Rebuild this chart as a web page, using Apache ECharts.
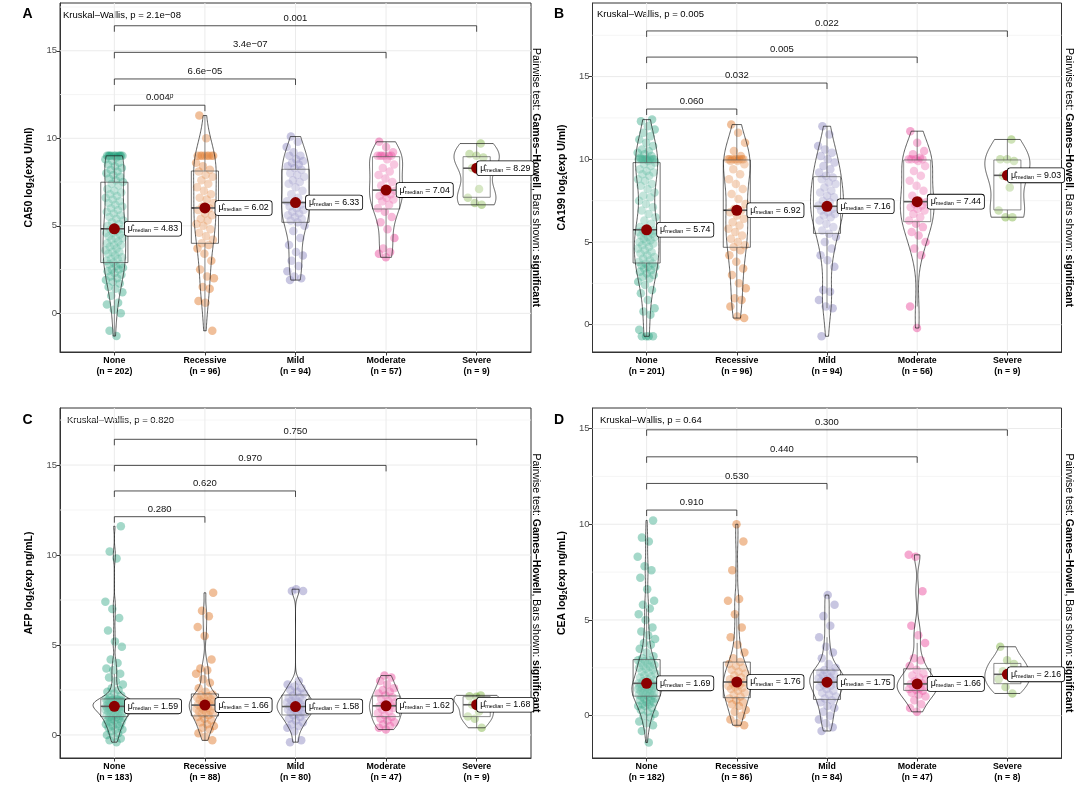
<!DOCTYPE html>
<html><head><meta charset="utf-8">
<script src="https://cdn.jsdelivr.net/npm/echarts@6/dist/echarts.min.js"></script>
<style>html,body{margin:0;padding:0;background:#fff}#c{width:1083px;height:789px}</style>
</head><body><div id="c"></div>
<script>
const categories = ['None','Recessive','Mild','Moderate','Severe'];
const groupColors = ['#1B9E77','#D95F02','#7570B3','#E7298A','#66A61E'];

// ---------- Panel A : CA50 ----------
const A_n = [202,96,94,57,9];
const A_median = [4.83,6.02,6.33,7.04,8.29];
const A_q1 = [2.90,4.00,5.20,5.96,6.63];
const A_q3 = [7.49,8.13,8.23,8.95,8.95];
const A_None = [-1.3,-1.0,0.0,0.2,0.5,0.6,1.0,1.2,1.4,1.5,1.7,1.8,1.9,2.0,2.1,2.2,2.3,2.4,2.5,2.5,2.6,2.7,2.8,2.8,2.9,
 3.0,3.1,3.1,3.2,3.3,3.4,3.5,3.5,3.6,3.7,3.8,3.9,3.9,4.0,4.1,4.2,4.3,4.3,4.4,4.5,4.6,4.6,4.7,4.8,4.8,
 4.9,5.0,5.1,5.2,5.3,5.4,5.5,5.6,5.7,5.8,5.9,6.0,6.1,6.2,6.3,6.4,6.5,6.6,6.7,6.8,6.9,7.0,7.1,7.3,7.4,
 7.5,7.6,7.7,7.8,7.9,8.0,8.1,8.2,8.3,8.4,8.5,8.6,8.7,8.8,8.9,9.0,9.0,9.0,9.0,9.0,9.0,9.0,9.0,9.0,9.0];
const A_Recessive = [-1.0,0.6,0.7,1.4,1.5,2.0,2.1,2.5,3.0,3.4,3.7,3.9,
 4.0,4.2,4.4,4.6,4.8,5.0,5.1,5.3,5.4,5.6,5.7,5.9,6.0,
 6.1,6.3,6.5,6.6,6.8,7.0,7.2,7.4,7.6,7.8,7.9,8.1,
 8.2,8.4,8.6,9.0,9.0,9.0,9.0,9.0,9.0,9.0,9.0,10.0,11.3];
const A_Mild = [1.9,2.0,2.1,2.4,2.7,3.0,3.3,3.5,3.9,4.3,4.7,5.0,
 5.2,5.3,5.4,5.5,5.6,5.7,5.8,5.9,6.0,6.1,6.2,6.3,
 6.4,6.6,6.8,7.0,7.2,7.4,7.5,7.6,7.8,7.9,8.0,8.2,
 8.3,8.4,8.5,8.6,8.7,8.8,9.0,9.0,9.2,9.5,9.8,10.1];
const A_Moderate = [3.2,3.4,3.5,3.7,4.3,4.8,5.2,5.5,5.8,
 6.0,6.2,6.4,6.5,6.6,6.7,6.8,6.9,7.0,
 7.1,7.3,7.5,7.7,7.9,8.1,8.3,8.5,8.8,
 9.0,9.0,9.0,9.0,9.0,9.0,9.2,9.5,9.8];
const A_Severe = [6.2,6.3,6.6,7.1,8.3,8.9,9.0,9.1,9.7];
const A_pairY = [11.89,13.39,14.91,16.43];
const A_pairText = ['0.004{sup|p}','6.6e\u221205','3.4e\u221207','0.001'];

// ---------- Panel B : CA199 ----------
const B_n = [201,96,94,56,9];
const B_median = [5.74,6.92,7.16,7.44,9.03];
const B_q1 = [3.73,4.68,5.52,6.23,6.94];
const B_q3 = [9.80,9.96,8.95,9.96,9.96];
const B_None = [-0.7,-0.7,-0.7,-0.7,-0.3,0.6,0.8,1.0,1.5,1.9,2.1,2.4,2.6,2.8,2.9,3.0,3.1,3.2,3.3,3.4,3.5,3.5,3.6,3.7,3.7,
 3.8,3.9,4.0,4.1,4.2,4.3,4.4,4.5,4.6,4.7,4.8,4.9,5.0,5.0,5.1,5.2,5.3,5.3,5.4,5.5,5.5,5.6,5.6,5.7,5.7,
 5.8,5.9,6.1,6.3,6.5,6.7,6.9,7.1,7.3,7.5,7.7,7.8,8.0,8.2,8.4,8.5,8.7,8.8,9.0,9.1,9.2,9.3,9.4,9.6,9.7,
 9.8,9.9,10.0,10.0,10.0,10.0,10.0,10.0,10.0,10.0,10.1,10.2,10.3,10.4,10.5,10.6,10.8,11.0,11.2,11.4,11.6,11.8,12.0,12.3,12.4];
const B_Recessive = [0.4,0.5,1.1,1.5,1.6,2.2,2.5,3.0,3.4,3.8,4.2,4.5,
 4.7,4.8,5.0,5.2,5.4,5.6,5.8,6.0,6.2,6.4,6.6,6.8,6.9,
 7.0,7.3,7.6,7.9,8.2,8.5,8.8,9.1,9.4,9.7,9.9,9.9,
 10.0,10.0,10.0,10.0,10.0,10.0,10.0,10.0,10.2,10.5,11.0,11.6,12.1];
const B_Mild = [-0.7,1.0,1.1,1.5,2.0,2.1,3.5,3.9,4.2,4.6,5.0,5.3,
 5.5,5.7,5.9,6.1,6.3,6.5,6.6,6.7,6.8,6.9,7.0,7.1,
 7.2,7.4,7.5,7.7,7.8,8.0,8.1,8.3,8.5,8.6,8.8,8.9,
 9.0,9.2,9.4,9.6,9.8,10.0,10.2,10.4,10.6,10.8,11.5,12.0];
const B_Moderate = [-0.2,1.1,4.2,4.6,5.0,5.4,5.6,5.9,6.1,
 6.3,6.5,6.7,6.9,7.0,7.1,7.2,7.3,7.4,
 7.5,7.8,8.1,8.4,8.7,9.0,9.3,9.6,9.9,
 10.0,10.0,10.0,10.0,10.1,10.3,10.5,11.0,11.7];
const B_Severe = [6.5,6.5,6.9,8.3,9.0,9.9,10.0,10.0,11.2];
const B_pairY = [13.04,14.61,16.18,17.76];
const B_pairText = ['0.060','0.032','0.005','0.022'];

// ---------- Panel C : AFP ----------
const C_n = [183,88,80,47,9];
const C_median = [1.59,1.66,1.58,1.62,1.68];
const C_q1 = [1.02,1.06,1.11,1.02,1.02];
const C_q3 = [2.00,2.28,2.22,2.17,2.13];
const C_None = [-0.4,-0.3,-0.2,-0.1,0.0,0.1,0.2,0.3,0.3,0.4,0.5,0.5,0.6,0.6,0.7,0.7,0.8,0.8,0.9,0.9,0.95,1.0,1.0,
 1.05,1.1,1.1,1.15,1.2,1.2,1.25,1.3,1.3,1.35,1.4,1.4,1.4,1.45,1.45,1.5,1.5,1.5,1.55,1.55,1.55,1.6,1.6,
 1.6,1.65,1.65,1.7,1.7,1.7,1.75,1.75,1.8,1.8,1.8,1.85,1.85,1.85,1.9,1.9,1.9,1.9,1.95,1.95,1.95,2.0,2.0,
 2.1,2.2,2.3,2.4,2.5,2.6,2.8,3.0,3.2,3.4,3.6,3.7,4.0,4.2,4.9,5.2,5.8,6.5,7.0,7.4,9.8,10.2,11.6];
const C_Recessive = [-0.3,-0.1,0.1,0.3,0.4,0.5,0.6,0.7,0.8,0.9,1.0,
 1.1,1.15,1.2,1.25,1.3,1.35,1.4,1.45,1.5,1.55,1.6,1.65,
 1.7,1.75,1.8,1.85,1.9,1.95,2.0,2.05,2.1,2.15,2.2,2.25,
 2.4,2.6,2.9,3.1,3.4,3.6,3.7,4.2,5.5,6.0,6.6,6.9,7.9];
const C_Mild = [-0.4,-0.3,0.2,0.4,0.5,0.6,0.7,0.8,0.9,1.0,
 1.1,1.15,1.2,1.25,1.3,1.35,1.4,1.45,1.5,1.55,1.58,
 1.6,1.7,1.75,1.8,1.85,1.9,1.95,2.0,2.05,2.1,2.2,
 2.3,2.4,2.5,2.6,2.7,2.8,3.0,8.0,8.0,8.1];
const C_Moderate = [0.3,0.4,0.5,0.6,0.7,0.8,0.9,1.0,1.1,1.2,1.3,1.4,1.5,1.55,1.6,
 1.65,1.7,1.8,1.9,2.0,2.1,2.2,2.3,2.4,2.5,2.6,2.8,3.0,3.2,3.3];
const C_Severe = [0.4,0.9,1.02,1.3,1.68,1.9,2.13,2.15,2.2];
const C_pairY = [12.13,13.56,14.98,16.43];
const C_pairText = ['0.280','0.620','0.970','0.750'];

// ---------- Panel D : CEA ----------
const D_n = [182,86,84,47,8];
const D_median = [1.69,1.76,1.75,1.66,2.16];
const D_q1 = [1.02,0.94,0.85,1.32,1.67];
const D_q3 = [2.93,2.80,2.38,2.45,2.73];
const D_None = [-1.4,-0.8,-0.5,-0.4,-0.3,-0.1,0.0,0.1,0.2,0.3,0.4,0.5,0.5,0.6,0.6,0.7,0.7,0.8,0.8,0.9,0.9,1.0,1.0,
 1.05,1.1,1.1,1.15,1.2,1.2,1.25,1.3,1.3,1.35,1.4,1.4,1.45,1.45,1.5,1.5,1.55,1.55,1.6,1.6,1.65,1.65,1.68,
 1.7,1.75,1.8,1.85,1.9,2.0,2.05,2.1,2.2,2.25,2.3,2.4,2.45,2.5,2.55,2.6,2.65,2.7,2.75,2.8,2.85,2.9,2.9,
 3.0,3.1,3.3,3.5,3.7,3.8,4.0,4.2,4.4,4.6,5.0,5.3,5.6,5.8,6.0,6.6,7.2,7.6,7.8,8.3,9.1,9.3,10.2];
const D_Recessive = [-0.5,-0.4,-0.2,0.0,0.2,0.3,0.5,0.6,0.7,0.8,0.9,
 1.0,1.1,1.2,1.3,1.4,1.45,1.5,1.55,1.6,1.7,1.75,
 1.8,1.9,2.0,2.1,2.2,2.3,2.4,2.5,2.6,2.7,2.8,
 3.0,3.3,3.7,4.1,4.6,5.3,6.0,6.1,7.6,9.1,10.0];
const D_Mild = [-0.8,-0.6,-0.4,-0.2,0.0,0.2,0.4,0.5,0.7,0.8,
 0.9,1.0,1.1,1.2,1.3,1.4,1.5,1.55,1.6,1.7,1.75,
 1.8,1.85,1.9,1.95,2.0,2.1,2.15,2.2,2.25,2.3,2.38,
 2.5,2.7,3.0,3.3,3.6,4.1,4.7,5.2,5.8,6.3];
const D_Moderate = [0.2,0.4,0.6,0.8,1.0,1.1,1.2,1.3,1.35,1.4,1.45,1.5,1.55,1.6,1.66,
 1.7,1.8,1.9,2.0,2.1,2.2,2.4,2.6,2.9,3.0,3.8,4.2,4.7,6.5,8.3,8.4];
const D_Severe = [1.16,1.5,1.9,2.0,2.32,2.7,2.9,3.6];
const D_pairY = [10.74,12.13,13.52,14.93];
const D_pairText = ['0.910','0.530','0.440','0.300'];

const yTicks = [0,5,10,15];
const FF = "'Liberation Sans', Arial, Helvetica, sans-serif";

const panels = [
  {letter:'A', groups:[A_None,A_Recessive,A_Mild,A_Moderate,A_Severe], n:A_n, med:A_median, q1:A_q1, q3:A_q3,
   pairY:A_pairY, pairText:A_pairText, yTitle:'CA50 log{s|2}(exp U/ml)', kw:'Kruskal\u2013Wallis, p = 2.1e\u221208',
   grid:{left:60, top:3, width:471, height:349}, yMin:-2.21, yMax:17.73, letterXY:[27.5,14.5], kwXY:[63,15], capXY:[536,177.5]},
  {letter:'B', groups:[B_None,B_Recessive,B_Mild,B_Moderate,B_Severe], n:B_n, med:B_median, q1:B_q1, q3:B_q3,
   pairY:B_pairY, pairText:B_pairText, yTitle:'CA199 log{s|2}(exp U/ml)', kw:'Kruskal\u2013Wallis, p = 0.005',
   grid:{left:592.5, top:3, width:469, height:349}, yMin:-1.65, yMax:19.45, letterXY:[559,14.5], kwXY:[597,14.5], capXY:[1069,177.5]},
  {letter:'C', groups:[C_None,C_Recessive,C_Mild,C_Moderate,C_Severe], n:C_n, med:C_median, q1:C_q1, q3:C_q3,
   pairY:C_pairY, pairText:C_pairText, yTitle:'AFP log{s|2}(exp ng/mL)', kw:'Kruskal\u2013Wallis, p = 0.820',
   grid:{left:60, top:408, width:471, height:350}, yMin:-1.28, yMax:18.17, letterXY:[27.5,420.5], kwXY:[67,420.5], capXY:[536,583]},
  {letter:'D', groups:[D_None,D_Recessive,D_Mild,D_Moderate,D_Severe], n:D_n, med:D_median, q1:D_q1, q3:D_q3,
   pairY:D_pairY, pairText:D_pairText, yTitle:'CEA log{s|2}(exp ng/mL)', kw:'Kruskal\u2013Wallis, p = 0.64',
   grid:{left:592.5, top:408, width:469, height:350}, yMin:-2.21, yMax:16.07, letterXY:[559,420.5], kwXY:[600,420.5], capXY:[1069,583]}
];

// Gaussian KDE (bw.nrd0 on the listed values), trimmed to data range, as ggplot2 geom_violin
function kde(vals) {
  const s = vals.slice().sort((a,b)=>a-b), n = s.length;
  const mean = s.reduce((a,b)=>a+b,0)/n;
  const sd = Math.sqrt(s.reduce((a,b)=>a+(b-mean)*(b-mean),0)/(n-1));
  const q = p => { const h=(n-1)*p, lo=Math.floor(h), hi=Math.min(lo+1,n-1); return s[lo]+(h-lo)*(s[hi]-s[lo]); };
  let lo = Math.min(sd, (q(0.75)-q(0.25))/1.34); if (!(lo>0)) lo = sd || 1;
  const bw = 0.9*lo*Math.pow(n, -0.2);
  const ys=[], ds=[], m=160;
  for (let k=0;k<m;k++){
    const y = s[0]+(s[n-1]-s[0])*k/(m-1); let d=0;
    for (const v of s){ const z=(y-v)/bw; d+=Math.exp(-0.5*z*z); }
    ys.push(y); ds.push(d/(n*bw*Math.sqrt(2*Math.PI)));
  }
  return {ys, ds};
}
function jitterX(i, g) { const f = ((i+1)*0.6180339887 + g*0.29) % 1; return (f-0.5)*0.2; }

const grids=[], xAxes=[], yAxes=[], series=[], graphic=[];

panels.forEach((P, pi) => {
  grids.push(Object.assign({show:true, borderColor:'#333', borderWidth:1, backgroundColor:'transparent'}, P.grid));
  xAxes.push({type:'value', gridIndex:pi, min:0.4, max:5.6,
    axisLine:{show:true, onZero:false, lineStyle:{color:'#333', width:1}},
    axisTick:{show:true, customValues:[1,2,3,4,5], length:3.5, lineStyle:{color:'#333'}},
    axisLabel:{customValues:[1,2,3,4,5], margin:3.5, fontSize:8.8, fontWeight:'bold', color:'#000', lineHeight:10.5, fontFamily:FF,
      formatter: v => categories[Math.round(v)-1] + '\n(n = ' + P.n[Math.round(v)-1] + ')'},
    splitLine:{show:false}});
  yAxes.push({type:'value', gridIndex:pi, min:P.yMin, max:P.yMax,
    axisLine:{show:true, lineStyle:{color:'#333', width:1}},
    axisTick:{show:true, customValues:yTicks, length:3.5, lineStyle:{color:'#333'}},
    axisLabel:{customValues:yTicks, margin:3, fontSize:9.5, color:'#4D4D4D', fontFamily:FF},
    splitLine:{show:false},
    name:P.yTitle, nameLocation:'middle', nameGap:24,
    nameTextStyle:{fontWeight:'bold', fontSize:10.5, color:'#000', fontFamily:FF, lineHeight:13,
      rich:{s:{fontSize:7, fontWeight:'bold', fontFamily:FF, lineHeight:7, verticalAlign:'bottom', color:'#000'}}}});

  // grid lines
  series.push({type:'custom', xAxisIndex:pi, yAxisIndex:pi, z:1, silent:true, data:[[1,0]],
    renderItem:(params, api) => {
      const ch=[];
      for (let y=-2.5; y<=P.yMax; y+=2.5) {
        if (y < P.yMin) continue;
        const a=api.coord([0.4,y]), b=api.coord([5.6,y]);
        const major = Math.abs(y%5)<1e-9;
        ch.push({type:'line', shape:{x1:a[0],y1:a[1],x2:b[0],y2:b[1]}, style:{stroke: major?'#EBEBEB':'#F2F2F2', lineWidth: major?1:0.8}});
      }
      for (let x=1;x<=5;x++){
        const a=api.coord([x,P.yMin]), b=api.coord([x,P.yMax]);
        ch.push({type:'line', shape:{x1:a[0],y1:a[1],x2:b[0],y2:b[1]}, style:{stroke:'#EBEBEB', lineWidth:1}});
      }
      return {type:'group', children:ch};
    }});

  // jittered points
  P.groups.forEach((vals, g) => {
    series.push({type:'scatter', xAxisIndex:pi, yAxisIndex:pi, z:2, silent:true, symbolSize:8.5,
      itemStyle:{color:groupColors[g], opacity:0.4},
      data: vals.map((v,i) => [g+1+jitterX(i,g), v])});
  });

  // box plots
  series.push({type:'custom', xAxisIndex:pi, yAxisIndex:pi, z:3, silent:true, data:[[1,0],[2,0],[3,0],[4,0],[5,0]],
    renderItem:(params, api) => {
      const g=params.dataIndex, x=g+1, hw=0.15, q1=P.q1[g], q3=P.q3[g], md=P.med[g];
      const iqr=q3-q1, vals=P.groups[g];
      const lo=Math.min(...vals.filter(v=>v>=q1-1.5*iqr)), hi=Math.max(...vals.filter(v=>v<=q3+1.5*iqr));
      const a=api.coord([x-hw,q3]), b=api.coord([x+hw,q1]);
      const c1=api.coord([x,q3]), c2=api.coord([x,hi]), c3=api.coord([x,q1]), c4=api.coord([x,lo]);
      const m1=api.coord([x-hw,md]), m2=api.coord([x+hw,md]);
      const st={stroke:'#333', lineWidth:0.7};
      return {type:'group', children:[
        {type:'line', shape:{x1:c1[0],y1:c1[1],x2:c2[0],y2:c2[1]}, style:st},
        {type:'line', shape:{x1:c3[0],y1:c3[1],x2:c4[0],y2:c4[1]}, style:st},
        {type:'rect', shape:{x:a[0], y:a[1], width:b[0]-a[0], height:b[1]-a[1]}, style:{fill:'rgba(255,255,255,0.2)', stroke:'#333', lineWidth:0.7}},
        {type:'line', shape:{x1:m1[0],y1:m1[1],x2:m2[0],y2:m2[1]}, style:{stroke:'#333', lineWidth:1.6}}
      ]};
    }});

  // violins (scale = "area", width 0.5)
  const dens = P.groups.map(vals => kde(vals));
  const maxD = Math.max(...dens.map(d => Math.max(...d.ds)));
  series.push({type:'custom', xAxisIndex:pi, yAxisIndex:pi, z:4, silent:true, data:[[1,0],[2,0],[3,0],[4,0],[5,0]],
    renderItem:(params, api) => {
      const g=params.dataIndex, d=dens[g], L=[], R=[];
      for (let k=0;k<d.ys.length;k++){
        const hw=0.25*d.ds[k]/maxD;
        L.push(api.coord([g+1-hw, d.ys[k]])); R.push(api.coord([g+1+hw, d.ys[k]]));
      }
      return {type:'polygon', shape:{points:L.concat(R.reverse())}, style:{fill:'rgba(255,255,255,0.2)', stroke:'#1a1a1a', lineWidth:0.7}};
    }});

  // significance brackets
  series.push({type:'custom', xAxisIndex:pi, yAxisIndex:pi, z:5, silent:true, data:[[1,0],[2,0],[3,0],[4,0]],
    renderItem:(params, api) => {
      const k=params.dataIndex, y=P.pairY[k];
      const p1=api.coord([1,y]), p2=api.coord([k+2,y]), tip=6;
      return {type:'group', children:[
        {type:'polyline', shape:{points:[[p1[0],p1[1]+tip],[p1[0],p1[1]],[p2[0],p2[1]],[p2[0],p2[1]+tip]]}, style:{stroke:'#222', lineWidth:0.8, fill:null}},
        {type:'text', x:(p1[0]+p2[0])/2, y:p1[1]-2.5, style:{text:P.pairText[k], fontSize:9.5, fontFamily:FF, fill:'#111', align:'center', verticalAlign:'bottom',
          rich:{sup:{fontSize:6.5, fontStyle:'italic', fontFamily:FF, verticalAlign:'top', lineHeight:6, fill:'#111'}}}}
      ]};
    }});

  // centrality points + labels
  series.push({type:'scatter', xAxisIndex:pi, yAxisIndex:pi, z:6, silent:true, symbolSize:11,
    itemStyle:{color:'#8B0000', opacity:1},
    label:{show:true, position:'right', distance:5, formatter: p => '{m|\u03BC\u0302}{s|median}{m| = ' + p.value[1].toFixed(2) + '}',
      backgroundColor:'#fff', borderColor:'#000', borderWidth:0.8, borderRadius:2.5, padding:[2,3,2,3],
      rich:{m:{fontSize:8.8, lineHeight:10, fontFamily:FF, color:'#000'}, s:{fontSize:5.5, lineHeight:6, fontFamily:FF, color:'#000', verticalAlign:'bottom'}}},
    data: P.med.map((m,g) => g===4 ? {value:[g+1,m], label:{offset:[-10,0]}} : {value:[g+1,m]})});

  // annotations
  graphic.push({type:'text', x:P.letterXY[0], y:P.letterXY[1], style:{text:P.letter, fontSize:14, fontWeight:'bold', fontFamily:FF, fill:'#000', align:'center', verticalAlign:'middle'}});
  graphic.push({type:'text', x:P.kwXY[0], y:P.kwXY[1], style:{text:P.kw, fontSize:9.5, fontFamily:FF, fill:'#000', align:'left', verticalAlign:'middle'}});
  graphic.push({type:'text', x:P.capXY[0], y:P.capXY[1], rotation:-Math.PI/2,
    style:{text:'Pairwise test: {b|Games\u2013Howell}, Bars shown: {b|significant}', fontSize:10.5, fontFamily:FF, fill:'#000', align:'center', verticalAlign:'middle',
      rich:{b:{fontSize:10.5, fontWeight:'bold', fontFamily:FF, fill:'#000'}}}});
});

const chart = echarts.init(document.getElementById('c'), null, {renderer:'canvas'});
chart.setOption({animation:false, backgroundColor:'#fff', textStyle:{fontFamily:FF},
  grid:grids, xAxis:xAxes, yAxis:yAxes, series:series, graphic:graphic});
</script></body></html>
